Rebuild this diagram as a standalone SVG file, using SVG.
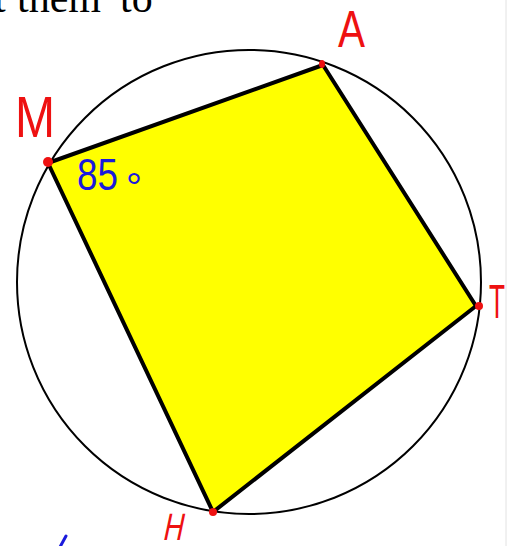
<svg xmlns="http://www.w3.org/2000/svg" width="517" height="546" viewBox="0 0 517 546">
  <style>
    .serif { font-family: "Liberation Serif", "DejaVu Serif", serif; font-size: 42px; fill: #000; }
    .lbl { font-family: "Liberation Sans", "DejaVu Sans", sans-serif; fill: #ee1111; }
    .ang { font-family: "Liberation Sans", "DejaVu Sans", sans-serif; fill: #1a1adc; }
    .edge { stroke: #000; stroke-width: 4; stroke-linecap: round; }
    .dot { fill: #ee1111; }
  </style>
  <rect x="0" y="0" width="517" height="546" fill="#ffffff"/>
  <line x1="506" y1="0" x2="506" y2="546" stroke="#e2e2e2" stroke-width="1"/>

  <g id="header-text">
    <text class="serif" x="-6" y="12">t</text>
    <text class="serif" x="17" y="12">them</text>
    <text class="serif" x="120" y="12">to</text>
  </g>

  <g id="circle">
    <circle cx="249" cy="282" r="232" fill="none" stroke="#000" stroke-width="2"/>
  </g>

  <g id="quadrilateral">
    <polygon points="48,163 323,65 476,306 213,512" fill="#ffff00" stroke="none"/>
  </g>

  <g id="connectors">
    <line class="edge" x1="48" y1="163" x2="323" y2="65"/>
    <line class="edge" x1="323" y1="65" x2="476" y2="306"/>
    <line class="edge" x1="476" y1="306" x2="213" y2="512"/>
    <line class="edge" x1="213" y1="512" x2="48" y2="163"/>
  </g>

  <g id="vertex-M">
    <circle class="dot" cx="48" cy="162" r="5"/>
    <text class="lbl" x="15" y="137" font-size="58" textLength="40" lengthAdjust="spacingAndGlyphs">M</text>
  </g>
  <g id="vertex-A">
    <ellipse class="dot" cx="322" cy="64" rx="3" ry="4"/>
    <text class="lbl" x="338" y="47" font-size="52" textLength="27" lengthAdjust="spacingAndGlyphs">A</text>
  </g>
  <g id="vertex-T">
    <circle class="dot" cx="479" cy="306" r="4"/>
    <text class="lbl" x="489" y="318" font-size="48" textLength="16" lengthAdjust="spacingAndGlyphs">T</text>
  </g>
  <g id="vertex-H">
    <circle class="dot" cx="213" cy="512" r="4"/>
    <text class="lbl" x="0" y="0" font-size="38" textLength="20" lengthAdjust="spacingAndGlyphs" transform="translate(162,540) skewX(-12)">H</text>
  </g>

  <g id="angle-label">
    <text class="ang" x="77" y="190" font-size="44" textLength="41" lengthAdjust="spacingAndGlyphs">85</text>
    <text class="ang" x="126" y="201" font-size="40">°</text>
  </g>

  <line x1="66" y1="536" x2="60" y2="547" stroke="#1a1adc" stroke-width="3" stroke-linecap="round"/>
</svg>
